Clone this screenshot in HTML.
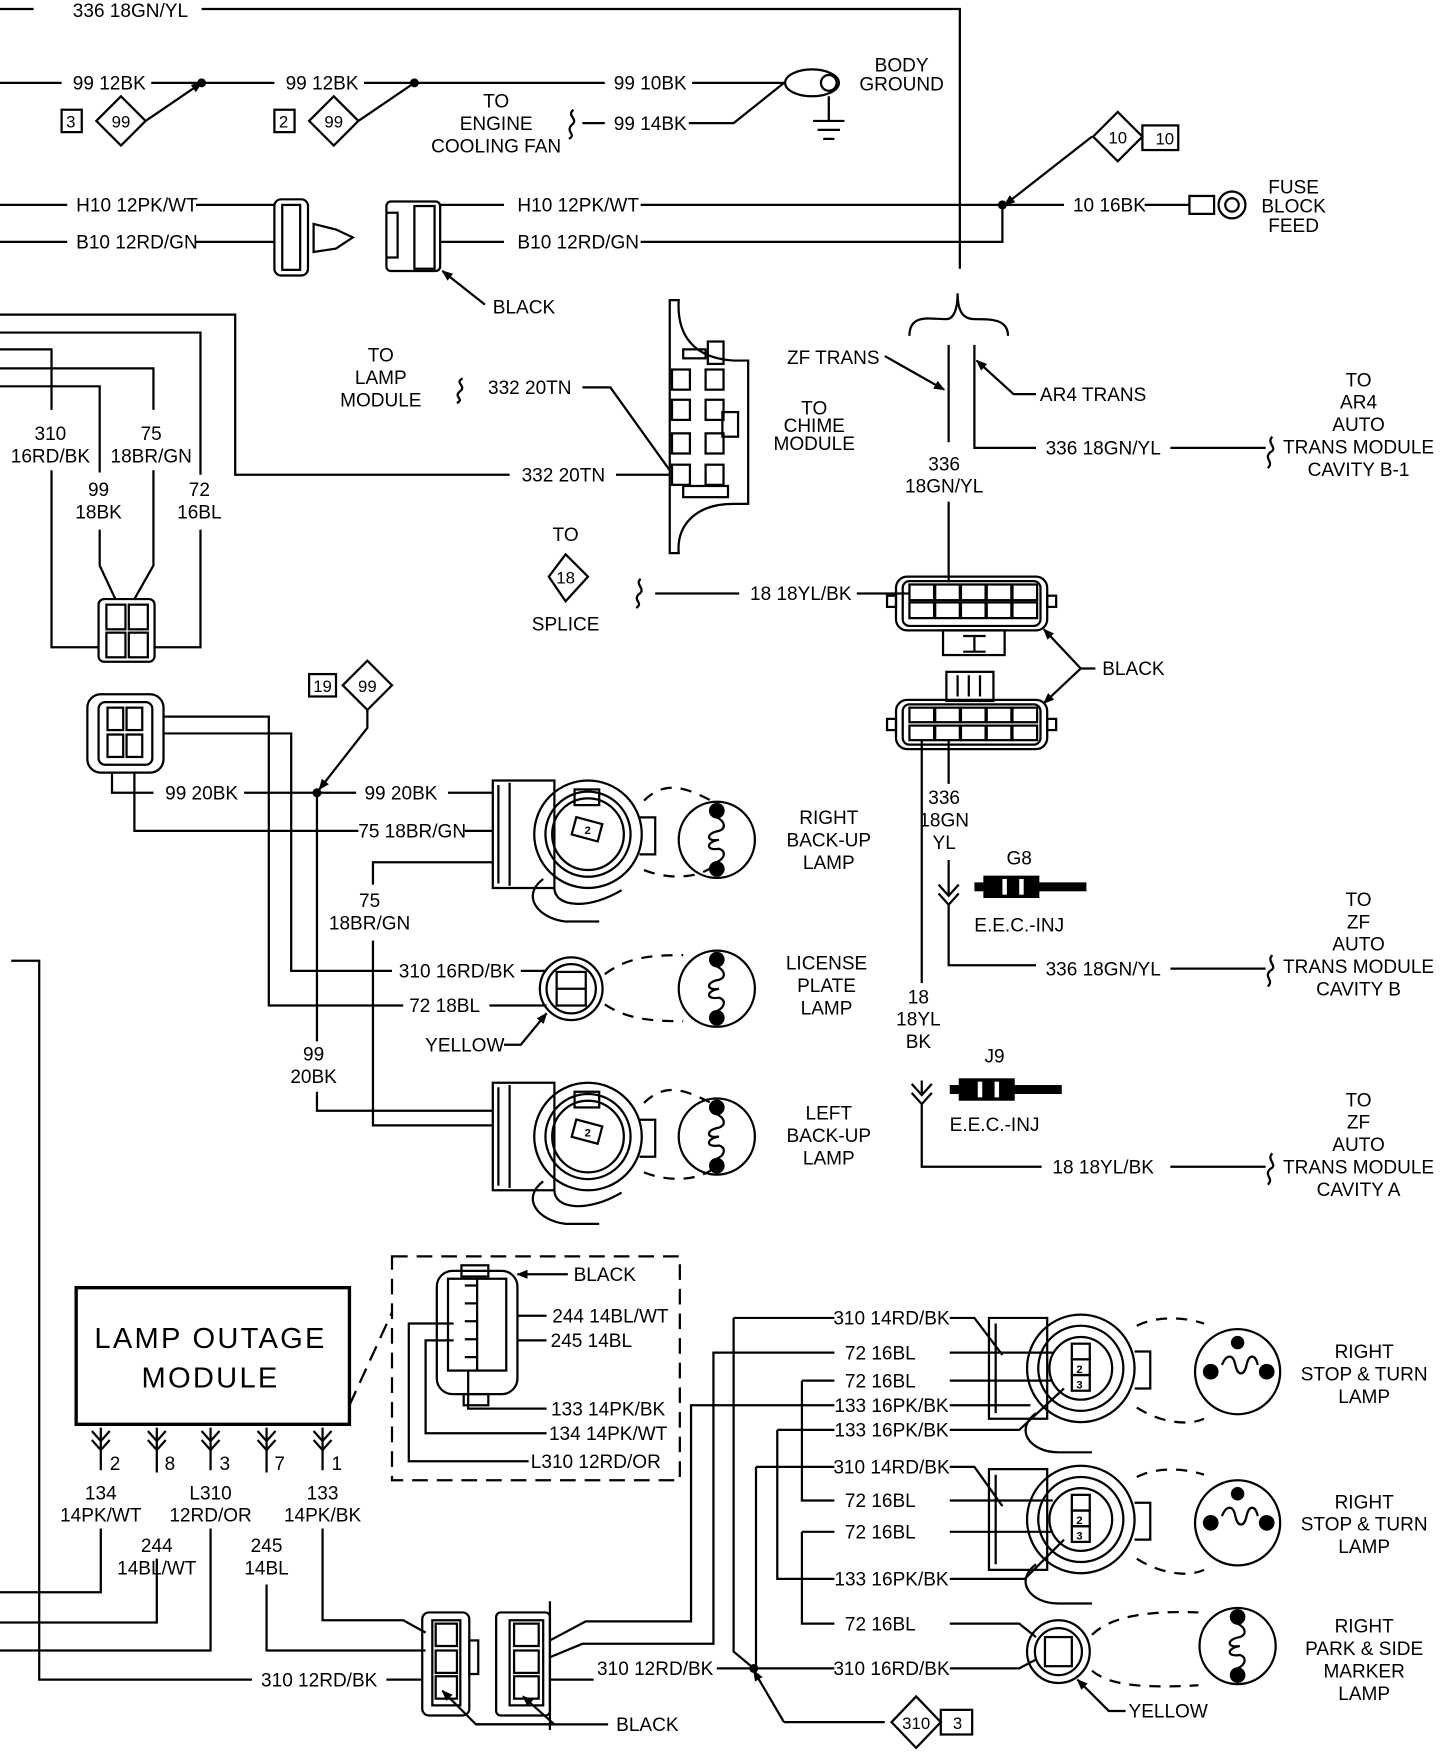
<!DOCTYPE html>
<html><head><meta charset="utf-8"><style>
html,body{margin:0;padding:0;background:#fff}
svg{display:block}
text{font-family:"Liberation Sans Narrow","Liberation Sans",sans-serif;font-size:17px;fill:#000;font-stretch:condensed}
.m{text-anchor:middle}
.s{font-size:10px;font-weight:bold}
</style></head><body>
<svg width="1456" height="1758" viewBox="0 0 1300 1570" preserveAspectRatio="none" xmlns="http://www.w3.org/2000/svg">
<defs>
<marker id="ar" markerWidth="10" markerHeight="10" refX="9" refY="5" orient="auto" markerUnits="userSpaceOnUse"><path d="M0,1 L10,5 L0,9 Z" fill="#000"/></marker>
<g id="bulb" fill="none" stroke="#000" stroke-width="2">
<circle cx="0" cy="0" r="34"/><circle cx="0" cy="-26" r="6" fill="#000"/><circle cx="0" cy="26" r="6" fill="#000"/>
<path d="M0,-20 C8,-16 8,-10 2,-8 C-10,-6 -10,2 2,0 C-10,2 -10,10 2,8 C8,10 8,16 0,20"/></g>
<g id="sock" fill="none" stroke="#000" stroke-width="2">
<path d="M-85,-48 L-30,-48 L-30,48 L-85,48 Z M-80,-44 L-80,44 M-70,-46 L-70,46"/>
<circle cx="0" cy="0" r="48"/><circle cx="0" cy="0" r="38"/><circle cx="0" cy="0" r="32"/>
<rect x="-12" y="-40" width="22" height="14"/><rect x="-14" y="-12" width="24" height="16" transform="rotate(15)"/>
<text x="-3" y="0" class="s" stroke="none">2</text>
<path d="M-40,40 C-60,55 -45,75 -20,78 L10,78 M-30,48 C-30,65 0,68 30,50 M46,-15 L60,-15 L60,18 L46,18"/>
<path d="M50,-30 C70,-50 90,-40 110,-30 M50,32 C70,40 95,40 110,30" stroke-dasharray="10,8"/></g>
<g id="sock2" fill="none" stroke="#000" stroke-width="2">
<path d="M-82,-45 L-30,-45 L-30,45 L-82,45 Z M-76,-40 L-76,40"/>
<circle cx="0" cy="0" r="48"/><circle cx="0" cy="0" r="38"/><circle cx="0" cy="0" r="28"/>
<rect x="-8" y="-22" width="16" height="14"/><rect x="-8" y="-8" width="16" height="14"/><rect x="-8" y="6" width="16" height="14"/>
<text x="-4" y="4" class="s" stroke="none">2</text><text x="-4" y="18" class="s" stroke="none">3</text>
<path d="M-40,40 C-60,55 -45,75 -20,75 L10,75 M48,-15 L62,-15 L62,18 L48,18"/>
<path d="M50,-38 C70,-48 95,-45 110,-40 M50,35 C70,48 95,52 110,45" stroke-dasharray="10,8"/></g>
<g id="coil" fill="none" stroke="#000" stroke-width="2">
<circle r="38"/><circle cx="-24" cy="0" r="6" fill="#000"/><circle cx="26" cy="0" r="6" fill="#000"/><circle cx="0" cy="-26" r="5" fill="#000"/>
<path d="M-14,-6 c4,-10 10,-10 12,0 c2,10 8,10 10,0 c2,-10 8,-10 10,0"/></g>
<g id="inj"><rect x="0" y="6" width="100" height="8" fill="#000"/><rect x="8" y="0" width="50" height="20" fill="#000"/><rect x="25" y="3" width="4" height="14" fill="#fff"/><rect x="40" y="3" width="4" height="14" fill="#fff"/></g>
</defs>
<g fill="none" stroke="#000" stroke-width="2">
<path d="M0,8 H30 M180,8 H857 V240"/>
<path d="M0,74 H55 M135,74 H245 M325,74 H540 M618,74 H700"/>
<path d="M130,108 L180,74" marker-end="url(#ar)"/><path d="M320,108 L370,74"/>
<rect x="55" y="98" width="18" height="20"/><path d="M108,86 L130,108 L108,130 L86,108 Z"/>
<rect x="245" y="98" width="18" height="20"/><path d="M298,86 L320,108 L298,130 L276,108 Z"/>
<path d="M520,110 H540 M615,110 H655 L700,74 M512,98 C505,104 518,106 510,112 C505,118 515,120 508,124"/>
<ellipse cx="725" cy="74" rx="24" ry="12"/><circle cx="740" cy="74" r="7"/><path d="M740,86 V108 M726,108 H754 M730,116 H750 M735,124 H745"/>
<path d="M975,122 L897,183" marker-end="url(#ar)"/><path d="M998,100 L1020,122 L998,144 L976,122 Z"/><rect x="1020" y="112" width="32" height="22"/>
<path d="M0,183 H60 M175,183 H245 M0,216 H60 M175,216 H245"/>
<rect x="245" y="178" width="30" height="68" rx="6"/><rect x="252" y="183" width="16" height="58"/>
<path d="M280,200 L300,205 L315,212 L300,222 L280,225 Z"/>
<rect x="345" y="180" width="48" height="62" rx="4"/><rect x="370" y="184" width="18" height="56"/><path d="M345,190 H355 V230 H345"/>
<path d="M393,183 H450 M393,216 H450 M572,183 H950 M572,216 H895 V183 M1022,183 H1062"/>
<path d="M433,272 L395,242" marker-end="url(#ar)"/>
<rect x="1062" y="175" width="22" height="16"/><circle cx="1100" cy="183" r="12"/><circle cx="1100" cy="183" r="6"/>
<!-- left wires -->
<path d="M0,281 H210 V424 H455 M550,424 H600"/>
<path d="M0,297 H179 V424 M179,473 V578 H137"/>
<path d="M0,312 H46 V366 M46,420 V578 H88"/>
<path d="M0,329 H137 V366 M137,420 V505 L120,535"/>
<path d="M0,345 H89 V422 M89,473 V505 L103,535"/>
<rect x="88" y="535" width="50" height="56" rx="5"/><rect x="95" y="540" width="17" height="22"/><rect x="115" y="540" width="17" height="22"/><rect x="95" y="565" width="17" height="22"/><rect x="115" y="565" width="17" height="22"/>
<path d="M413,338 C405,342 418,345 410,350 C405,355 415,356 408,360 M520,346 H545 L598,420"/>
<path d="M598,268 H606 C604,300 620,320 655,322 H668 V450 H655 C620,450 604,470 606,494 H598 Z"/>
<rect x="600" y="330" width="16" height="18"/><rect x="630" y="330" width="16" height="18"/><rect x="600" y="357" width="16" height="18"/><rect x="630" y="357" width="16" height="18"/><rect x="600" y="387" width="16" height="18"/><rect x="630" y="387" width="16" height="18"/><rect x="600" y="415" width="16" height="18"/><rect x="630" y="415" width="16" height="18"/>
<rect x="610" y="312" width="20" height="8"/><rect x="632" y="305" width="14" height="20"/><rect x="610" y="434" width="40" height="10"/><rect x="645" y="368" width="14" height="22"/>
<path d="M812,300 C812,280 830,285 845,285 C852,285 855,275 855,262 C855,275 858,285 870,285 C885,285 900,285 900,300"/>
<path d="M847,308 V395 M870,308 V400 H925 M1045,400 H1130 M1136,390 C1130,396 1142,400 1134,404 C1128,410 1138,412 1132,418"/>
<path d="M790,318 L843,348" marker-end="url(#ar)"/><path d="M925,352 H905 L872,322" marker-end="url(#ar)"/>
<path d="M847,448 V520"/>
<path d="M490,515 L505,495 L525,515 L505,537 Z"/>
<path d="M585,530 H660 M572,517 C566,522 578,526 570,531 C565,537 575,538 568,543 M765,530 H812"/>
<rect x="800" y="515" width="135" height="48" rx="10"/><rect x="806" y="519" width="123" height="40" rx="6"/>
<rect x="812" y="522" width="22" height="14"/><rect x="835" y="522" width="22" height="14"/><rect x="858" y="522" width="22" height="14"/><rect x="881" y="522" width="22" height="14"/><rect x="904" y="522" width="22" height="14"/>
<rect x="812" y="538" width="22" height="14"/><rect x="835" y="538" width="22" height="14"/><rect x="858" y="538" width="22" height="14"/><rect x="881" y="538" width="22" height="14"/><rect x="904" y="538" width="22" height="14"/>
<rect x="792" y="532" width="8" height="10"/><rect x="935" y="532" width="8" height="10"/>
<rect x="842" y="563" width="55" height="22"/><path d="M860,568 H880 M870,568 V582 M860,582 H880"/>
<rect x="845" y="600" width="42" height="26"/><path d="M855,603 V622 M865,603 V622 M875,603 V622"/>
<rect x="800" y="625" width="135" height="44" rx="10"/><rect x="806" y="629" width="123" height="36" rx="6"/>
<rect x="812" y="632" width="22" height="13"/><rect x="835" y="632" width="22" height="13"/><rect x="858" y="632" width="22" height="13"/><rect x="881" y="632" width="22" height="13"/><rect x="904" y="632" width="22" height="13"/>
<rect x="812" y="648" width="22" height="13"/><rect x="835" y="648" width="22" height="13"/><rect x="858" y="648" width="22" height="13"/><rect x="881" y="648" width="22" height="13"/><rect x="904" y="648" width="22" height="13"/>
<rect x="792" y="642" width="8" height="10"/><rect x="935" y="642" width="8" height="10"/>
<path d="M978,597 H965 L932,562" marker-end="url(#ar)"/><path d="M965,597 L932,628" marker-end="url(#ar)"/>
<path d="M847,660 V700 M847,768 V800 M838,790 L847,800 L856,790 M838,798 L847,808 L856,798 M847,808 V862 H925 M1045,865 H1130 M1136,853 C1130,859 1142,863 1134,867 C1128,873 1138,875 1132,881"/>
<path d="M823,660 V878 M823,965 V978 M814,968 L823,978 L832,968 M814,976 L823,986 L832,976 M823,986 V1042 H930 M1045,1042 H1130 M1136,1030 C1130,1036 1142,1040 1134,1044 C1128,1050 1138,1052 1132,1058"/>
<rect x="78" y="620" width="68" height="70" rx="12"/><rect x="88" y="627" width="48" height="56" rx="6"/>
<rect x="96" y="632" width="14" height="20"/><rect x="113" y="632" width="14" height="20"/><rect x="96" y="656" width="14" height="20"/><rect x="113" y="656" width="14" height="20"/>
<rect x="276" y="602" width="24" height="20"/><path d="M328,590 L350,612 L328,634 L306,612 Z"/>
<path d="M328,634 V650 L285,705" marker-end="url(#ar)"/>
<path d="M100,690 V708 H137 M218,708 H318 M400,708 H440 M120,690 V742 H320 M415,742 H440"/>
<path d="M146,640 H240 V898 H360 M437,898 H488 M146,655 H260 V867 H350 M465,867 H488"/>
<path d="M283,708 V930 M283,975 V992 H440 M333,790 V770 H440 M333,840 V1005 H440"/>
<path d="M450,933 H465 L488,905" marker-end="url(#ar)"/>
<circle cx="510" cy="883" r="28"/><circle cx="510" cy="883" r="22"/><rect x="497" y="868" width="26" height="30"/><path d="M497,883 H523"/>
<path d="M540,870 C560,855 580,853 610,853 M540,897 C560,910 580,912 610,912" stroke-dasharray="10,8"/>
<path d="M10,858 H35 V1500 H225 M345,1500 H377"/>
<rect x="68" y="1150" width="244" height="122" stroke-width="3"/>
<path d="M312,1255 L350,1172" stroke-dasharray="14,8"/>
<rect x="350" y="1122" width="257" height="200" stroke-dasharray="14,8"/>
<rect x="390" y="1135" width="72" height="110" rx="14"/><rect x="400" y="1142" width="52" height="82"/>
<rect x="412" y="1130" width="24" height="10"/><rect x="414" y="1245" width="22" height="10"/>
<path d="M426,1142 V1224"/>
<path d="M415,1148 H425 M415,1164 H425 M415,1180 H425 M415,1196 H425 M415,1212 H425"/>
<path d="M507,1138 H462" marker-end="url(#ar)"/>
<path d="M462,1175 H488 M462,1197 H488 M418,1224 V1258 H488 M405,1197 H380 V1280 H488 M405,1182 H365 V1305 H472"/>
<path d="M90,1275 V1313 M140,1275 V1315 M188,1275 V1313 M238,1275 V1315 M288,1275 V1313"/>
<path d="M82,1278 L90,1287 L98,1278 M82,1286 L90,1295 L98,1286 M132,1278 L140,1287 L148,1278 M132,1286 L140,1295 L148,1286 M180,1278 L188,1287 L196,1278 M180,1286 L188,1295 L196,1286 M230,1278 L238,1287 L246,1278 M230,1286 L238,1295 L246,1286 M280,1278 L288,1287 L296,1278 M280,1286 L288,1295 L296,1286"/>
<path d="M90,1365 V1422 H0 M140,1392 V1449 H0 M188,1365 V1474 H0 M238,1415 V1474 H380 M288,1365 V1447 H360 L380,1458"/>
<rect x="377" y="1440" width="42" height="92" rx="6"/><rect x="386" y="1447" width="25" height="76"/>
<rect x="389" y="1450" width="19" height="20"/><rect x="389" y="1474" width="19" height="20"/><rect x="389" y="1497" width="19" height="20"/><rect x="419" y="1465" width="8" height="30"/>
<rect x="443" y="1440" width="48" height="92" rx="4"/><rect x="455" y="1447" width="30" height="76"/>
<rect x="459" y="1450" width="22" height="20"/><rect x="459" y="1474" width="22" height="20"/><rect x="459" y="1497" width="22" height="20"/><path d="M491,1430 V1545"/>
<path d="M543,1540 H425 L395,1510" marker-end="url(#ar)"/><path d="M495,1540 L467,1515" marker-end="url(#ar)"/><path d="M490,1540 H425"/>
<path d="M491,1465 L523,1448 H617 V1255 H745 M491,1480 L520,1468 H637 V1208 H745 M491,1500 H530 M640,1490 H745 M655,1177 H745 M655,1177 V1475 L673,1490 M675,1310 H745 M675,1310 V1490 M716,1233 H745 M716,1233 V1340 H745 M716,1368 H745 M716,1368 V1450 H745 M694,1277 H745 M694,1277 V1410 H745"/>
<path d="M700,1538 L673,1492" marker-end="url(#ar)"/><path d="M790,1538 H700"/>
<path d="M818,1515 L840,1538 L818,1561 L796,1538 Z"/><rect x="840" y="1527" width="28" height="22"/>
<path d="M848,1177 H870 L895,1210 M848,1208 H940 M848,1233 H940 M848,1255 H920 M848,1277 H910 L950,1240"/>
<path d="M848,1310 H870 L895,1345 M848,1340 H940 M848,1368 H940 M848,1410 H915 L950,1375"/>
<path d="M848,1450 H910 L925,1462 M848,1490 H910 L925,1482"/>
<circle cx="945" cy="1475" r="28"/><circle cx="945" cy="1475" r="21"/><rect x="933" y="1462" width="24" height="26"/>
<path d="M975,1460 C990,1445 1020,1438 1070,1440 M975,1492 C990,1505 1020,1508 1070,1505" stroke-dasharray="10,8"/>
<path d="M1005,1528 H990 L962,1500" marker-end="url(#ar)"/>
</g>
<use href="#bulb" x="640" y="750"/><use href="#bulb" x="640" y="883"/><use href="#bulb" x="640" y="1015"/><use href="#bulb" x="1105" y="1470"/>
<use href="#sock" x="525" y="745"/><use href="#sock" x="525" y="1015"/>
<use href="#sock2" x="965" y="1222"/><use href="#sock2" x="965" y="1357"/>
<use href="#coil" x="1105" y="1225"/><use href="#coil" x="1105" y="1360"/>
<use href="#inj" x="870" y="782"/><use href="#inj" x="848" y="963"/>
<circle cx="180" cy="74" r="4"/><circle cx="370" cy="74" r="4"/><circle cx="895" cy="183" r="4"/><circle cx="283" cy="708" r="4"/><circle cx="673" cy="1490" r="4"/>
<text x="65" y="15">336 18GN/YL</text>
<text x="65" y="80">99 12BK</text><text x="255" y="80">99 12BK</text><text x="548" y="80">99 10BK</text><text x="548" y="116">99 14BK</text>
<text x="59" y="114" style="font-size:15px">3</text><text x="108" y="114" class="m" style="font-size:15px">99</text>
<text x="249" y="114" style="font-size:15px">2</text><text x="298" y="114" class="m" style="font-size:15px">99</text>
<text x="805" y="64" class="m">BODY</text><text x="805" y="81" class="m">GROUND</text>
<text x="443" y="96" class="m">TO</text><text x="443" y="116" class="m">ENGINE</text><text x="443" y="136" class="m">COOLING FAN</text>
<text x="998" y="128" class="m" style="font-size:15px">10</text><text x="1040" y="129" class="m" style="font-size:15px">10</text>
<text x="68" y="189">H10 12PK/WT</text><text x="68" y="222">B10 12RD/GN</text><text x="462" y="189">H10 12PK/WT</text><text x="462" y="222">B10 12RD/GN</text>
<text x="958" y="189">10 16BK</text><text x="1155" y="173" class="m">FUSE</text><text x="1155" y="190" class="m">BLOCK</text><text x="1155" y="207" class="m">FEED</text>
<text x="440" y="280">BLACK</text>
<text x="340" y="323" class="m">TO</text><text x="340" y="343" class="m">LAMP</text><text x="340" y="363" class="m">MODULE</text>
<text x="473" y="352" class="m">332 20TN</text><text x="503" y="430" class="m">332 20TN</text>
<text x="727" y="370" class="m">TO</text><text x="727" y="386" class="m">CHIME</text><text x="727" y="402" class="m">MODULE</text>
<text x="744" y="325" class="m">ZF TRANS</text><text x="976" y="358" class="m">AR4 TRANS</text>
<text x="843" y="420" class="m">336</text><text x="843" y="440" class="m">18GN/YL</text><text x="985" y="406" class="m">336 18GN/YL</text>
<text x="1213" y="345" class="m">TO</text><text x="1213" y="365" class="m">AR4</text><text x="1213" y="385" class="m">AUTO</text><text x="1213" y="405" class="m">TRANS MODULE</text><text x="1213" y="425" class="m">CAVITY B-1</text>
<text x="45" y="393" class="m">310</text><text x="45" y="413" class="m">16RD/BK</text><text x="135" y="393" class="m">75</text><text x="135" y="413" class="m">18BR/GN</text>
<text x="88" y="443" class="m">99</text><text x="88" y="463" class="m">18BK</text><text x="178" y="443" class="m">72</text><text x="178" y="463" class="m">16BL</text>
<text x="505" y="483" class="m">TO</text><text x="505" y="521" class="m" style="font-size:15px">18</text><text x="505" y="563" class="m">SPLICE</text>
<text x="715" y="536" class="m">18 18YL/BK</text><text x="1012" y="603" class="m">BLACK</text>
<text x="288" y="618" class="m" style="font-size:15px">19</text><text x="328" y="618" class="m" style="font-size:15px">99</text>
<text x="180" y="714" class="m">99 20BK</text><text x="358" y="714" class="m">99 20BK</text><text x="368" y="748" class="m">75 18BR/GN</text>
<text x="330" y="810" class="m">75</text><text x="330" y="830" class="m">18BR/GN</text>
<text x="408" y="873" class="m">310 16RD/BK</text><text x="397" y="904" class="m">72 18BL</text><text x="415" y="939" class="m">YELLOW</text>
<text x="280" y="947" class="m">99</text><text x="280" y="967" class="m">20BK</text>
<text x="740" y="736" class="m">RIGHT</text><text x="740" y="756" class="m">BACK-UP</text><text x="740" y="776" class="m">LAMP</text>
<text x="738" y="866" class="m">LICENSE</text><text x="738" y="886" class="m">PLATE</text><text x="738" y="906" class="m">LAMP</text>
<text x="740" y="1000" class="m">LEFT</text><text x="740" y="1020" class="m">BACK-UP</text><text x="740" y="1040" class="m">LAMP</text>
<text x="843" y="718" class="m">336</text><text x="843" y="738" class="m">18GN</text><text x="843" y="758" class="m">YL</text>
<text x="910" y="772" class="m">G8</text><text x="910" y="832" class="m">E.E.C.-INJ</text><text x="985" y="871" class="m">336 18GN/YL</text>
<text x="1213" y="809" class="m">TO</text><text x="1213" y="829" class="m">ZF</text><text x="1213" y="849" class="m">AUTO</text><text x="1213" y="869" class="m">TRANS MODULE</text><text x="1213" y="889" class="m">CAVITY B</text>
<text x="820" y="896" class="m">18</text><text x="820" y="916" class="m">18YL</text><text x="820" y="936" class="m">BK</text>
<text x="888" y="949" class="m">J9</text><text x="888" y="1010" class="m">E.E.C.-INJ</text><text x="985" y="1048" class="m">18 18YL/BK</text>
<text x="1213" y="988" class="m">TO</text><text x="1213" y="1008" class="m">ZF</text><text x="1213" y="1028" class="m">AUTO</text><text x="1213" y="1048" class="m">TRANS MODULE</text><text x="1213" y="1068" class="m">CAVITY A</text>
<text x="188" y="1204" class="m" style="font-size:26px;font-stretch:normal;letter-spacing:2px">LAMP OUTAGE</text>
<text x="188" y="1239" class="m" style="font-size:26px;font-stretch:normal;letter-spacing:2px">MODULE</text>
<text x="540" y="1144" class="m">BLACK</text><text x="545" y="1181" class="m">244 14BL/WT</text><text x="528" y="1203" class="m">245 14BL</text>
<text x="543" y="1264" class="m">133 14PK/BK</text><text x="543" y="1286" class="m">134 14PK/WT</text><text x="532" y="1311" class="m">L310 12RD/OR</text>
<text x="98" y="1313">2</text><text x="147" y="1313">8</text><text x="196" y="1313">3</text><text x="245" y="1313">7</text><text x="296" y="1313">1</text>
<text x="90" y="1339" class="m">134</text><text x="90" y="1359" class="m">14PK/WT</text><text x="188" y="1339" class="m">L310</text><text x="188" y="1359" class="m">12RD/OR</text>
<text x="288" y="1339" class="m">133</text><text x="288" y="1359" class="m">14PK/BK</text>
<text x="140" y="1386" class="m">244</text><text x="140" y="1406" class="m">14BL/WT</text><text x="238" y="1386" class="m">245</text><text x="238" y="1406" class="m">14BL</text>
<text x="285" y="1506" class="m">310 12RD/BK</text><text x="585" y="1496" class="m">310 12RD/BK</text><text x="578" y="1546" class="m">BLACK</text>
<text x="796" y="1183" class="m">310 14RD/BK</text><text x="786" y="1214" class="m">72 16BL</text><text x="786" y="1239" class="m">72 16BL</text>
<text x="796" y="1261" class="m">133 16PK/BK</text><text x="796" y="1283" class="m">133 16PK/BK</text><text x="796" y="1316" class="m">310 14RD/BK</text>
<text x="786" y="1346" class="m">72 16BL</text><text x="786" y="1374" class="m">72 16BL</text><text x="796" y="1416" class="m">133 16PK/BK</text>
<text x="786" y="1456" class="m">72 16BL</text><text x="796" y="1496" class="m">310 16RD/BK</text>
<text x="818" y="1544" class="m" style="font-size:15px">310</text><text x="855" y="1544" class="m" style="font-size:15px">3</text>
<text x="1043" y="1534" class="m">YELLOW</text>
<text x="1218" y="1213" class="m">RIGHT</text><text x="1218" y="1233" class="m">STOP &amp; TURN</text><text x="1218" y="1253" class="m">LAMP</text>
<text x="1218" y="1347" class="m">RIGHT</text><text x="1218" y="1367" class="m">STOP &amp; TURN</text><text x="1218" y="1387" class="m">LAMP</text>
<text x="1218" y="1458" class="m">RIGHT</text><text x="1218" y="1478" class="m">PARK &amp; SIDE</text><text x="1218" y="1498" class="m">MARKER</text><text x="1218" y="1518" class="m">LAMP</text>
</svg>
</body></html>
